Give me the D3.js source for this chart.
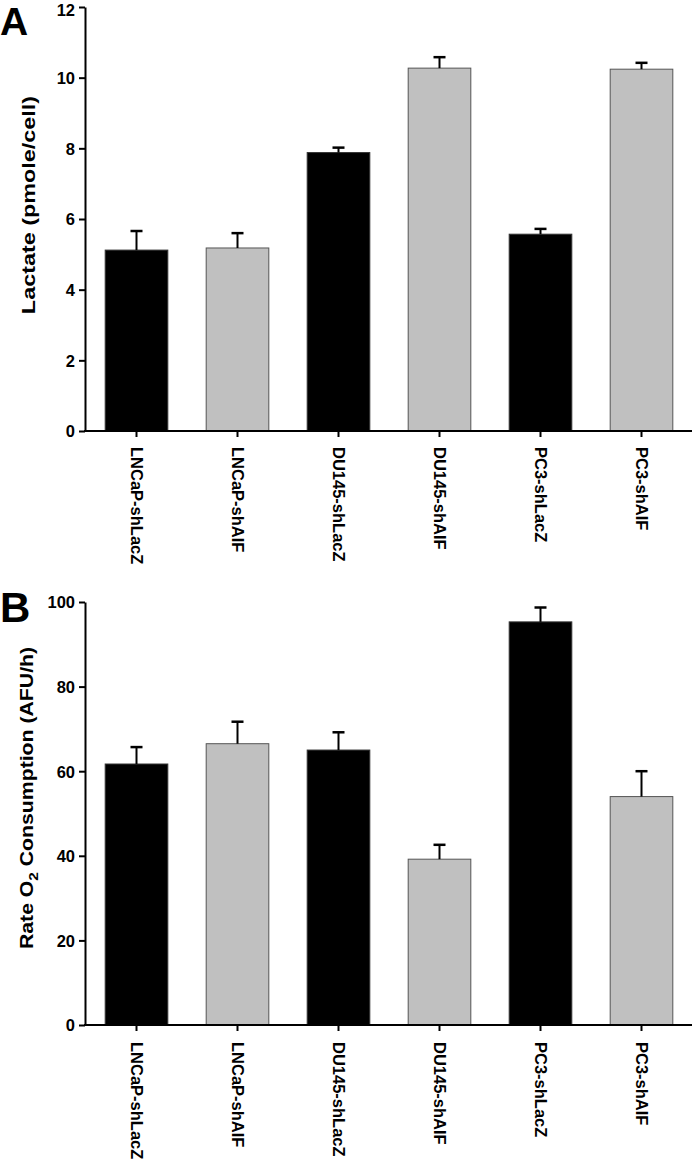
<!DOCTYPE html>
<html><head><meta charset="utf-8">
<script src="https://cdn.jsdelivr.net/npm/d3@7"></script>
<style>body{margin:0;background:#fff}svg{display:block}text{font-family:"Liberation Sans",Arial,sans-serif;font-weight:bold;fill:#000}</style>
</head><body>
<svg id="c" width="693" height="1159"></svg>
<script>
const categories = ["LNCaP-shLacZ","LNCaP-shAIF","DU145-shLacZ","DU145-shAIF","PC3-shLacZ","PC3-shAIF"];
const groupType = ["shLacZ","shAIF","shLacZ","shAIF","shLacZ","shAIF"];
const lactate = [5.12, 5.18, 7.88, 10.27, 5.57, 10.24];
const lactateErr = [0.54, 0.42, 0.14, 0.31, 0.15, 0.18];
const lactateTicks = [0,2,4,6,8,10,12];
const oxygen = [61.7, 66.5, 65.0, 39.2, 95.3, 54.0];
const oxygenErr = [4.0, 5.2, 4.2, 3.4, 3.4, 6.0];
const oxygenTicks = [0,20,40,60,80,100];

const svg = d3.select("#c");
const fillC = {shLacZ:"#000000", shAIF:"#c0c0c0"};
const strokeC = {shLacZ:"#333333", shAIF:"#555555"};
const FF = "Liberation Sans, Arial, sans-serif";

function panel(opts){
  const g = svg.append("g");
  const x = d3.scaleBand().domain(categories).range([86, 692]).paddingInner(0.38).paddingOuter(0.19);
  const y = d3.scaleLinear().domain([0, opts.max]).range([opts.y0, opts.y1]);
  const cx = (i)=>x(categories[i])+x.bandwidth()/2;
  // bars
  g.selectAll("rect.bar").data(opts.values).join("rect")
    .attr("x",(d,i)=>x(categories[i])).attr("width",x.bandwidth())
    .attr("y",d=>y(d)).attr("height",d=>y(0)-y(d))
    .attr("fill",(d,i)=>fillC[groupType[i]]).attr("stroke",(d,i)=>strokeC[groupType[i]]).attr("stroke-width",1);
  // error bars
  const eb = g.selectAll("g.eb").data(opts.values).join("g");
  eb.append("line").attr("x1",(d,i)=>cx(i)).attr("x2",(d,i)=>cx(i))
    .attr("y1",d=>y(d)).attr("y2",(d,i)=>y(d+opts.err[i])).attr("stroke","#000").attr("stroke-width",2);
  eb.append("line").attr("x1",(d,i)=>cx(i)-6).attr("x2",(d,i)=>cx(i)+6)
    .attr("y1",(d,i)=>y(d+opts.err[i])).attr("y2",(d,i)=>y(d+opts.err[i])).attr("stroke","#000").attr("stroke-width",2.5);
  // y axis
  const ya = g.append("g").attr("transform","translate(85,0)")
    .call(d3.axisLeft(y).tickValues(opts.ticks).tickSize(6).tickPadding(4).tickSizeOuter(0));
  ya.select(".domain").attr("stroke-width",2);
  ya.selectAll(".tick line").attr("stroke-width",2);
  ya.selectAll("text").attr("font-size",16.5).attr("font-family",FF).attr("font-weight","bold")
    .attr("dy",d=> (y(d) < 12 ? "0.5em" : "0.36em"));
  // x axis
  const xa = g.append("g").attr("transform",`translate(0,${opts.y0})`)
    .call(d3.axisBottom(x).tickSize(6).tickSizeOuter(0).tickFormat(""));
  xa.select(".domain").attr("stroke-width",2).attr("d",`M84,0H692`);
  xa.selectAll(".tick line").attr("stroke-width",2);
  xa.selectAll(".tick").append("text")
    .attr("transform",`translate(0,${opts.lab0}) rotate(90)`)
    .attr("x",0).attr("y",0).attr("dy","0.36em").attr("text-anchor","start")
    .attr("font-size",16.5).attr("fill","#000").attr("font-weight","bold")
    .attr("font-family",FF)
    .text(d=>d);
  // y title
  const t = g.append("text").attr("transform",`translate(${opts.tx},${opts.ty}) rotate(-90) scale(${opts.ts},1)`)
    .attr("text-anchor","middle").attr("font-size",18);
  opts.title.forEach(p=>{
    t.append("tspan").attr("dy",p.dy||0).attr("font-size",p.fs||18).text(p.t);
  });
  // panel letter
  g.append("text").attr("x",opts.lx).attr("y",opts.ly).attr("font-size",opts.lfs).text(opts.letter);
}

panel({values:lactate, err:lactateErr, max:12, ticks:lactateTicks, y0:431, y1:7, lab0:16,
  title:[{t:"Lactate (pmole/cell)"}], tx:35, ty:205, ts:1.3, letter:"A", lx:0, ly:35, lfs:39});
panel({values:oxygen, err:oxygenErr, max:100, ticks:oxygenTicks, y0:1025, y1:602, lab0:17,
  title:[{t:"Rate O"},{t:"2",dy:5,fs:13},{t:" Consumption (AFU/h)",dy:-5}], tx:33, ty:798, ts:1.18, letter:"B", lx:0, ly:622, lfs:42});
</script>
</body></html>
